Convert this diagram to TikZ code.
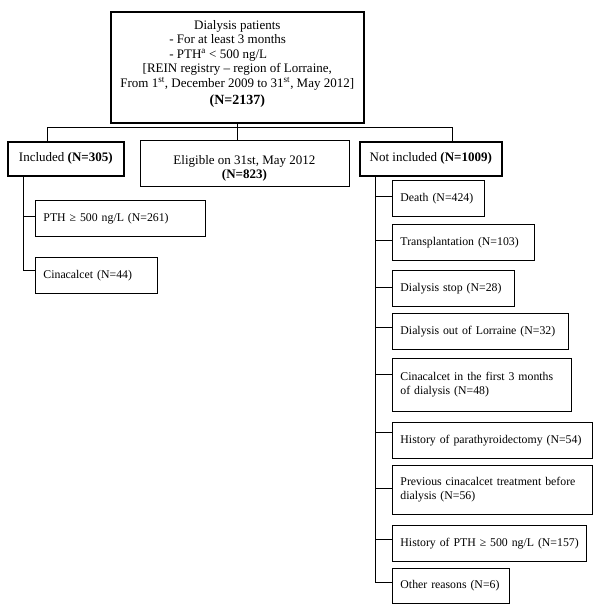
\documentclass[tikz,border=0pt]{standalone}
\usepackage{fontspec}
\setmainfont{Liberation Serif}
\usetikzlibrary{calc}
\tikzset{
  boldbox/.style={draw, line width=2.6pt, anchor=north west, inner sep=0pt, font=\fontsize{13}{15}\selectfont, align=center},
  plainbox/.style={draw, line width=0.9pt, anchor=north west, inner sep=0pt},
  subbox/.style={draw, line width=0.9pt, anchor=north west, inner xsep=8pt, inner ysep=0pt, align=left, font=\fontsize{11.8}{14}\selectfont},
  conn/.style={line width=0.9pt},
  txtbig/.style={font=\fontsize{13}{14.5}\selectfont, align=center, inner sep=0pt},
}
\begin{document}
\begin{tikzpicture}[x=1pt, y=-1pt]
\useasboundingbox (0,0) rectangle (600,608);

% level 0
\node[boldbox, minimum width=253, minimum height=111] (top) at (109.5,10.5) {};
\node[txtbig] (toptxt) at ($(top.center)+(0,-3.5)$) {Dialysis patients\\
  \makebox[136pt][l]{- For at least 3 months}\\
  \makebox[136pt][l]{- PTH\textsuperscript{a} < 500 ng/L}\\
  {[}REIN registry – region of Lorraine,\\
  From 1\textsuperscript{st}, December 2009 to 31\textsuperscript{st}, May 2012]\\[2.5pt]
  {\fontsize{14}{17}\selectfont\bfseries (N=2137)}};

% level 1
\node[boldbox, minimum width=116, minimum height=34] (inc) at (6.5,140.5) {Included \textbf{(N=305)}};
\node[plainbox, minimum width=209, minimum height=46] (elig) at (139.5,139.5) {};
\node[txtbig] (eligtxt) at ($(elig.center)+(0,5.5)$) {Eligible on 31st, May 2012\\ \textbf{(N=823)}};
\node[boldbox, minimum width=142, minimum height=34] (notinc) at (358.5,140.5) {Not included \textbf{(N=1009)}};

% included branch
\node[subbox, text width=154, minimum height=36] (pth) at (35,200) {\mbox{PTH ≥ 500 ng/L (N=261)}};
\node[subbox, text width=106, minimum height=36] (cin) at (35,257) {\mbox{Cinacalcet (N=44)}};

% not included branch
\node[subbox, text width=76, minimum height=36] (death) at (392,180) {\mbox{Death (N=424)}};
\node[subbox, text width=126, minimum height=36] (trans) at (392,224) {\mbox{Transplantation (N=103)}};
\node[subbox, text width=106, minimum height=36] (stop) at (392,270) {\mbox{Dialysis stop (N=28)}};
\node[subbox, text width=160, minimum height=36] (out) at (392,313) {\mbox{Dialysis out of Lorraine (N=32)}};
\node[subbox, text width=163, minimum height=53] (cinf) at (392,358) {\mbox{Cinacalcet in the first 3 months}\\of dialysis (N=48)};
\node[subbox, text width=184, minimum height=36] (para) at (392,422) {\mbox{History of parathyroidectomy (N=54)}};
\node[subbox, text width=184, minimum height=49] (prev) at (392,465) {\mbox{Previous cinacalcet treatment before}\\dialysis (N=56)};
\node[subbox, text width=178, minimum height=36] (hpth) at (392,525) {\mbox{History of PTH ≥ 500 ng/L (N=157)}};
\node[subbox, text width=101, minimum height=35] (other) at (392,568) {\mbox{Other reasons (N=6)}};

% connectors level 0 -> 1
\coordinate (hL) at (47,127);
\coordinate (hR) at (452,127);
\draw[conn] (top.south) -- (elig.north -| top.south);
\draw[conn] (inc.north -| hL) -- (hL) -- (hR) -- (notinc.north -| hR);

% left spine
\coordinate (sLx) at (23,0);
\coordinate (pthc) at ([yshift=2pt]pth.west);
\coordinate (cinc) at ([yshift=5pt]cin.west);
\draw[conn] (inc.south -| sLx) |- (cinc);
\draw[conn] (pthc -| sLx) -- (pthc);

% right spine
\coordinate (sRx) at (375,0);
\coordinate (otherc) at ([yshift=4pt]other.west);
\draw[conn] (notinc.south -| sRx) |- (otherc);
\foreach \b/\s in {death/2, trans/2, stop/1, out/4, cinf/11, para/8, prev/2, hpth/4} {
  \coordinate (\b c) at ([yshift=\s pt]\b.west);
  \draw[conn] (\b c -| sRx) -- (\b c);
}
\end{tikzpicture}
\end{document}
